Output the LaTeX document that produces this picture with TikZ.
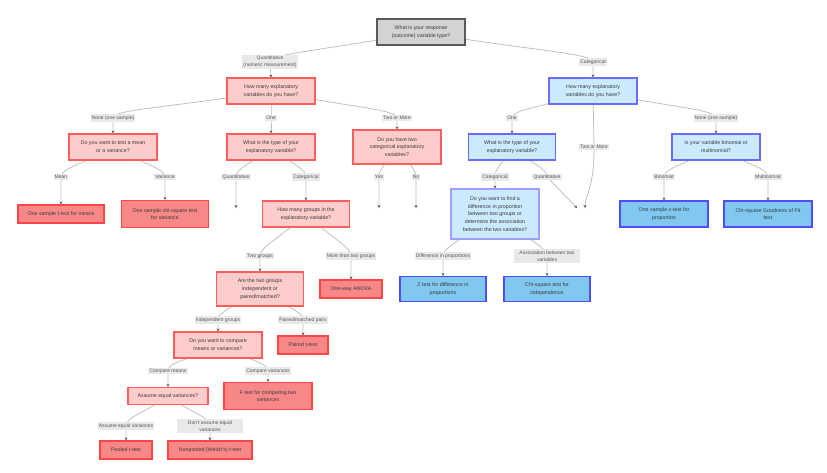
\documentclass[tikz,border=0pt]{standalone}
\usepackage{fontspec}
\setmainfont{Liberation Sans}
\usetikzlibrary{arrows.meta,calc,backgrounds}
\definecolor{rootfill}{HTML}{D3D3D3}
\definecolor{rootdraw}{HTML}{5A5A5A}
\definecolor{pinkfill}{HTML}{FFCCCC}
\definecolor{pinkdraw}{HTML}{FF5C5C}
\definecolor{redfill}{HTML}{F88888}
\definecolor{reddraw}{HTML}{FF4545}
\definecolor{bluefill}{HTML}{CCEAFF}
\definecolor{bluedraw}{HTML}{6B6BFF}
\definecolor{bleaffill}{HTML}{80C8F0}
\definecolor{bleafdraw}{HTML}{4D4DFF}
\definecolor{lblfill}{HTML}{E9E9E9}
\definecolor{txt}{HTML}{3A3A3A}
\definecolor{edgecol}{HTML}{BDBDBD}
\definecolor{tipcol}{HTML}{555555}
\tikzset{
  base/.style={rectangle, align=center, inner sep=1pt, text=txt,
    font=\fontsize{5.3}{7.8}\selectfont, line width=1.1pt},
  rootbox/.style={base, fill=rootfill, draw=rootdraw, line width=1.3pt},
  pinkbox/.style={base, fill=pinkfill, draw=pinkdraw},
  redleaf/.style={base, fill=redfill, draw=reddraw},
  bluebox/.style={base, fill=bluefill, draw=bluedraw},
  blueleaf/.style={base, fill=bleaffill, draw=bleafdraw},
  lbl/.style={rectangle, align=center, inner sep=1.2pt, fill=lblfill, text=txt!85,
    font=\fontsize{5}{7.4}\selectfont},
  edgeline/.style={draw=edgecol, line width=0.75pt,
    -{Stealth[length=3pt,width=3pt,color=tipcol]}},
  sz/.style 2 args={minimum width=#1pt, minimum height=#2pt}
}
\newcommand\fedge[3]{\draw[edgeline] (#1.center) .. controls ($(#1.center)!0.6!(#2.center)$) and ($(#2.center)+(0,-9)$) .. (#2.center) -- (#3.north);}
\newcommand\fedgefree[3]{\draw[edgeline] (#1.center) .. controls ($(#1.center)!0.6!(#2.center)$) and ($(#2.center)+(0,-9)$) .. (#2.center) -- (#3);}
\begin{document}
\begin{tikzpicture}[x=1pt,y=-1pt]
\useasboundingbox (0,0) rectangle (827,472);
% main nodes
\node[rootbox, sz={88}{26}] (root) at (421,32) {What is your response\\(outcome) variable type?};
\node[pinkbox, sz={88}{26}] (q1) at (271,91) {How many explanatory\\variables do you have?};
\node[bluebox, sz={88}{26}] (c1) at (593,91) {How many explanatory\\variables do you have?};
\node[pinkbox, sz={88}{26}] (a1) at (113,147) {Do you want to test a mean\\or a variance?};
\node[pinkbox, sz={88}{26}] (b1) at (271,147) {What is the type of your\\explanatory variable?};
\node[pinkbox, sz={88}{34}] (ct) at (397,147) {Do you have two\\categorical explanatory\\variables?};
\node[redleaf, sz={86}{18}] (a1a) at (61,214) {One sample t-test for means};
\node[redleaf, sz={87}{27}] (a1b) at (165,214) {One sample chi-square test\\for variance};
\node[pinkbox, sz={87}{26}] (b2) at (306,214) {How many groups in the\\explanatory variable?};
\node[pinkbox, sz={87}{34}] (b3) at (260,289) {Are the two groups\\independent or\\paired/matched?};
\node[redleaf, sz={62}{18}] (b4) at (351,289) {One-way ANOVA};
\node[pinkbox, sz={88}{26}] (b5) at (218,345) {Do you want to compare\\means or variances?};
\node[redleaf, sz={50}{18}] (b6) at (303,345) {Paired t-test};
\node[pinkbox, sz={80}{17}] (b7) at (168,396) {Assume equal variances?};
\node[redleaf, sz={88}{27}] (b8) at (268,396) {F test for comparing two\\variances};
\node[redleaf, sz={52}{18}] (b9) at (126,450) {Pooled t-test};
\node[redleaf, sz={84}{18}] (b10) at (210,450) {Nonpooled (Welch's) t-test};
\node[bluebox, sz={87}{26}] (d1) at (512,147) {What is the type of your\\explanatory variable?};
\node[bluebox, sz={88}{26}] (d2) at (716,147) {Is your variable binomial or\\multinomial?};
\node[bluebox, draw=bluedraw!65, sz={88}{50}] (d3) at (495,214) {Do you want to find a\\difference in proportion\\between two groups or\\determine the association\\between the two variables?};
\node[blueleaf, sz={86}{25}] (d4) at (443,289) {Z test for difference in\\proportions};
\node[blueleaf, sz={86}{25}] (d5) at (547,289) {Chi-square test for\\independence};
\node[blueleaf, sz={88}{26}] (d6) at (664,214) {One sample z-test for\\proportion};
\node[blueleaf, sz={88}{26}] (d7) at (768,214) {Chi-square Goodness of Fit\\test};
% free ends
\coordinate (e1) at (236,208);
\coordinate (e2) at (379,208);
\coordinate (e3) at (416,208);
\coordinate (e4) at (577,208);
\coordinate (e5) at (585,208);
% labels
\node[lbl] (Lq) at (270,62) {Quantitative\\(numeric measurement)};
\node[lbl] (Lc) at (593,62) {Categorical};
\node[lbl] (Lnone1) at (113,118) {None (one sample)};
\node[lbl] (Lone1) at (271,118) {One};
\node[lbl] (Ltwo1) at (397,118) {Two or More};
\node[lbl] (Lmean) at (61,177) {Mean};
\node[lbl] (Lvar) at (165,177) {Variance};
\node[lbl] (Lbq) at (236,177) {Quantitative};
\node[lbl] (Lbc) at (306,177) {Categorical};
\node[lbl] (Lyes) at (379,177) {Yes};
\node[lbl] (Lno) at (416,177) {No};
\node[lbl] (Ltg) at (260,256) {Two groups};
\node[lbl] (Lmtg) at (351,256) {More than two groups};
\node[lbl] (Lig) at (218,320) {Independent groups};
\node[lbl] (Lpm) at (303,320) {Paired/matched pairs};
\node[lbl] (Lcm) at (168,371) {Compare means};
\node[lbl] (Lcv) at (268,371) {Compare variances};
\node[lbl] (Laev) at (126,426) {Assume equal variances};
\node[lbl, minimum width=66pt] (Ldaev) at (210,426) {Don't assume equal\\variances};
\node[lbl] (Lone2) at (512,118) {One};
\node[lbl] (Ltwo2) at (594,147) {Two or More};
\node[lbl] (Lnone2) at (716,118) {None (one sample)};
\node[lbl] (Ldc) at (495,177) {Categorical};
\node[lbl] (Ldq) at (547,177) {Quantitative};
\node[lbl] (Ldp) at (443,256) {Difference in proportions};
\node[lbl, minimum width=66pt] (Lassoc) at (547,256) {Association between two\\variables};
\node[lbl] (Lbin) at (664,177) {Binomial};
\node[lbl] (Lmul) at (768,177) {Multinomial};
% edges
\begin{pgfonlayer}{background}
\fedge{root}{Lq}{q1}
\fedge{root}{Lc}{c1}
\fedge{q1}{Lnone1}{a1}
\fedge{q1}{Lone1}{b1}
\fedge{q1}{Ltwo1}{ct}
\fedge{a1}{Lmean}{a1a}
\fedge{a1}{Lvar}{a1b}
\fedgefree{b1}{Lbq}{e1}
\fedge{b1}{Lbc}{b2}
\fedgefree{ct}{Lyes}{e2}
\fedgefree{ct}{Lno}{e3}
\fedge{b2}{Ltg}{b3}
\fedge{b2}{Lmtg}{b4}
\fedge{b3}{Lig}{b5}
\fedge{b3}{Lpm}{b6}
\fedge{b5}{Lcm}{b7}
\fedge{b5}{Lcv}{b8}
\fedge{b7}{Laev}{b9}
\fedge{b7}{Ldaev}{b10}
\fedge{c1}{Lone2}{d1}
\fedge{c1}{Lnone2}{d2}
\draw[edgeline] (c1.center) -- (Ltwo2.center) .. controls (594,190) and (585,195) .. (e5);
\fedge{d1}{Ldc}{d3}
\draw[edgeline] (d1.center) .. controls ($(d1.center)!0.6!(Ldq.center)$) and ($(Ldq.center)+(0,-9)$) .. (Ldq.center) .. controls (562,192) .. (e4);
\fedge{d3}{Ldp}{d4}
\fedge{d3}{Lassoc}{d5}
\fedge{d2}{Lbin}{d6}
\fedge{d2}{Lmul}{d7}
\end{pgfonlayer}
\end{tikzpicture}
\end{document}
